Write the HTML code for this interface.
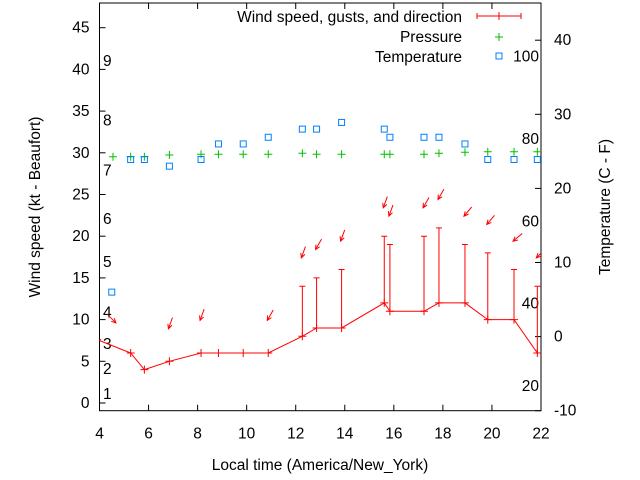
<!DOCTYPE html>
<html><head><meta charset="utf-8"><style>
body{margin:0;background:#fff}
svg{display:block;font-family:"Liberation Sans",sans-serif;font-size:15.5px}
</style></head><body>
<svg id="c" width="640" height="480" viewBox="0 0 640 480"></svg>
<script>
const windHours=[3.9,5.27,5.83,6.85,8.14,8.85,9.86,10.88,12.27,12.85,13.87,15.61,15.84,17.23,17.84,18.9,19.83,20.9,21.85];
const windSpeed=[7.6,6,4,5,6,6,6,6,8,9,9,12,11,11,12,12,10,10,6];
const windGust=[null,null,null,null,null,null,null,null,14,15,16,20,19,20,21,19,18,16,14];
const arrowHours=[4.71,6.85,8.14,10.88,12.27,12.85,13.87,15.61,15.84,17.23,17.84,18.9,19.83,20.9,21.85];
const arrowBase=[6.2,5.5,6.5,6.5,14,15,16,20,19,20,21,19,18,16,14];
const arrowDirs=[315,20,20,30,20,30,20,20,20,30,30,40,40,50,45];
const tempHours=[4.5,5.27,5.83,6.85,8.14,8.85,9.86,10.88,12.27,12.85,13.87,15.61,15.84,17.23,17.84,18.9,19.83,20.9,21.85];
const tempC=[6,23.9,23.9,23,23.9,26,26,26.9,28,28,28.9,28,26.9,26.9,26.9,26,23.9,23.9,23.9];
const presHours=[4.55,5.27,5.83,6.85,8.14,8.85,9.86,10.88,12.27,12.85,13.87,15.61,15.84,17.23,17.84,18.9,19.83,20.9,21.85];
const presVal=[29.53,29.53,29.53,29.74,29.82,29.82,29.82,29.82,29.94,29.82,29.82,29.82,29.82,29.82,29.94,30.06,30.13,30.13,30.13];
const xTicks=[4,6,8,10,12,14,16,18,20,22];
const yTicks=[0,5,10,15,20,25,30,35,40,45];
const y2Ticks=[-10,0,10,20,30,40];
const beaufort=[[1,1.2],[2,4.2],[3,7.2],[4,11],[5,17],[6,22.2],[7,28],[8,34],[9,41.1]];
const fahr=[20,40,60,80,100];

const L=99.5,R=541,T=3,B=410.7;
const X=h=>L+(h-4)*(R-L)/18;
const Y=v=>403-v*8.34;
const Y2=c=>B-(c+10)*7.41;
const NS="http://www.w3.org/2000/svg";
const svg=document.getElementById('c');
function mk(tag,attrs,parent){const e=document.createElementNS(NS,tag);for(const k in attrs)e.setAttribute(k,attrs[k]);(parent||svg).appendChild(e);return e;}

const defs=mk('defs',{});
const cp=mk('clipPath',{id:'clip'},defs);
mk('rect',{x:L,y:T,width:R-L,height:B-T},cp);

const frame=mk('rect',{x:L,y:T,width:R-L,height:B-T,fill:'none',stroke:'#000','stroke-width':1});



xTicks.forEach(t=>{
  const x=X(t);
  mk('line',{x1:x,y1:B,x2:x,y2:B-6,stroke:'#000'});
  mk('line',{x1:x,y1:T,x2:x,y2:T+6,stroke:'#000'});
  const tx=mk('text',{x:x,y:B+28,'text-anchor':'middle'});
  tx.textContent=t;
  
  
});
yTicks.forEach(t=>{
  const y=Y(t);
  mk('line',{x1:L,y1:y,x2:L+6,y2:y,stroke:'#000'});
  const tx=mk('text',{x:L-10,y:y+5,'text-anchor':'end'});
  tx.textContent=t;
  
  
});
y2Ticks.forEach(t=>{
  const y=Y2(t);
  mk('line',{x1:R,y1:y,x2:R-6,y2:y,stroke:'#000'});
  const tx=mk('text',{x:R+13,y:y+5,'text-anchor':'start'});
  tx.textContent=t;
  
  
});
beaufort.forEach(b=>{
  const tx=mk('text',{x:103,y:Y(b[1])+6});
  tx.textContent=b[0];
  
  
});
fahr.forEach(f=>{
  const c=(f-32)*5/9;
  const tx=mk('text',{x:539,y:Y2(c)+5,'text-anchor':'end'});
  tx.textContent=f;
  
  
});

let t1=mk('text',{x:320,y:470,'text-anchor':'middle'});t1.textContent='Local time (America/New_York)';

let t2=mk('text',{x:0,y:0,'text-anchor':'middle',transform:'translate(40,207) rotate(-90)'});t2.textContent='Wind speed (kt - Beaufort)';

let t3=mk('text',{x:0,y:0,'text-anchor':'middle',transform:'translate(610,207) rotate(-90)'});t3.textContent='Temperature (C - F)';


const g=mk('g',{'clip-path':'url(#clip)'});
const pts=windHours.map((h,i)=>X(h)+','+Y(windSpeed[i])).join(' ');
const wl=mk('polyline',{points:pts,fill:'none',stroke:'#f00','stroke-width':1},g);


windHours.forEach((h,i)=>{
  const x=X(h),y=Y(windSpeed[i]);
  const c=mk('path',{d:`M${x-4},${y}H${x+4}M${x},${y-4}V${y+4}`,stroke:'#f00',fill:'none'},g);
  
  
  if(windGust[i]!=null){
    const yg=Y(windGust[i]);
    const e=mk('path',{d:`M${x},${y}V${yg}M${x-3},${yg}H${x+3}`,stroke:'#f00',fill:'none'},g);
    
    
  }
});
arrowHours.forEach((h,i)=>{
  const hx=X(h)-1,hy=Y(arrowBase[i]+3.4);
  const a=arrowDirs[i]*Math.PI/180;
  const tx=hx+12*Math.sin(a),ty=hy-12*Math.cos(a);
  const ang=Math.atan2(hy-ty,hx-tx);
  const w=0.45,l=5;
  const p1x=hx-l*Math.cos(ang-w),p1y=hy-l*Math.sin(ang-w);
  const p2x=hx-l*Math.cos(ang+w),p2y=hy-l*Math.sin(ang+w);
  const ar=mk('path',{d:`M${tx},${ty}L${hx},${hy}M${p1x},${p1y}L${hx},${hy}L${p2x},${p2y}`,stroke:'#f00',fill:'none'},g);
  
  
});
presHours.forEach((h,i)=>{
  const x=X(h),y=Y(presVal[i]);
  const p=mk('path',{d:`M${x-4},${y}H${x+4}M${x},${y-4}V${y+4}`,stroke:'#00c000',fill:'none'},g);
  
  
});
tempHours.forEach((h,i)=>{
  const x=X(h),y=Y2(tempC[i]);
  const s=mk('rect',{x:x-3,y:y-3,width:6,height:6,fill:'none',stroke:'#0080ff'},g);
  
  
});

const lg=mk('g',{});


[['Wind speed, gusts, and direction',17],['Pressure',37],['Temperature',57]].forEach(r=>{
  const tx=mk('text',{x:462,y:r[1]+5,'text-anchor':'end'},lg);tx.textContent=r[0];
  
  
});
mk('path',{d:'M477,16H521M477,13V19M521,13V19M499,12V20',stroke:'#f00',fill:'none'},lg);
mk('path',{d:'M495,37H503M499,33V41',stroke:'#00c000',fill:'none'},lg);
mk('rect',{x:496,y:53,width:6,height:6,fill:'none',stroke:'#0080ff'},lg);
</script>
</body></html>
